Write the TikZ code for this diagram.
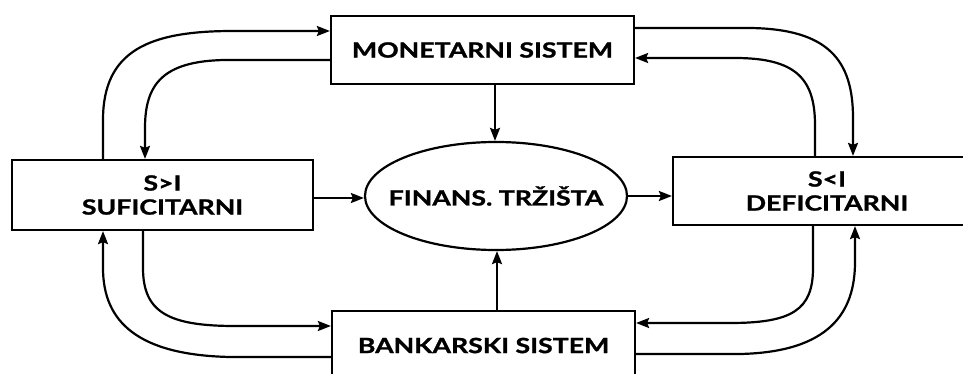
\documentclass[tikz,border=0pt]{standalone}
\usepackage{fontspec}
\newfontfamily\labfont{Lato}[FakeStretch=1.27,BoldFeatures={FakeBold=1.2}]
\usetikzlibrary{arrows.meta,shapes.geometric}
\begin{document}
\begin{tikzpicture}[x=1pt,y=-1pt,
  line width=2.2pt,
  arr/.style={-{Stealth[length=13pt,width=10pt,inset=2pt]}},
  box/.style={draw,rectangle,inner sep=0pt,align=center,
    font=\labfont\bfseries\fontsize{21}{24}\selectfont},
  ell/.style={draw,ellipse,inner xsep=-18pt,inner ysep=0pt,align=center,
    font=\labfont\bfseries\fontsize{21}{24}\selectfont}]
\useasboundingbox (0,0) rectangle (963,374);
\clip (0,0) rectangle (963,374);
\node[box,minimum width=303pt,minimum height=68pt] (mon) at (482.5,50) {MONETARNI SISTEM};
\node[box,minimum width=303pt,minimum height=69pt] (ban) at (483.5,345.5) {BANKARSKI SISTEM};
\node[box,minimum width=301pt,minimum height=70pt] (sup) at (162.5,195) {S>I\\SUFICITARNI};
\node[box,minimum width=308pt,minimum height=68pt] (def) at (827,191) {S<I\\DEFICITARNI};
\node[ell,minimum width=262pt,minimum height=108pt] (fin) at (496,196) {FINANS. TRŽIŠTA};
% straight arrows
\draw[arr] (sup.east |- 0,198) -- (fin.west |- 0,198);
\draw[arr] (fin.east |- 0,196) -- (def.west |- 0,196);
\draw[arr] (mon.south -| 495,0) -- (fin.north -| 495,0);
\draw[arr] (ban.north -| 497,0) -- (fin.south -| 497,0);
% top-left
\draw[arr] (sup.north -| 103,0) -- (103,120) .. controls (103,50) and (150,31) .. (233,31) -- (mon.west |- 0,31);
\draw[arr] (mon.west |- 0,60) -- (225,60) .. controls (162,61) and (145,85) .. (145,128) -- (sup.north -| 145,0);
% top-right
\draw[arr] (mon.east |- 0,28) -- (750,28) .. controls (828,29) and (853,60) .. (853,118) -- (def.north -| 853,0);
\draw[arr] (def.north -| 815,0) -- (815,125) .. controls (815,78) and (795,58) .. (735,58) -- (mon.east |- 0,58);
% bottom-left
\draw[arr] (sup.south -| 143,0) -- (143,268) .. controls (143,312) and (168,326) .. (235,326) -- (ban.west |- 0,326);
\draw[arr] (ban.west |- 0,357) -- (230,357) .. controls (138,355) and (103,322) .. (103,268) -- (sup.south -| 103,0);
% bottom-right
\draw[arr] (def.south -| 813,0) -- (813,268) .. controls (813,310) and (792,323) .. (730,323) -- (ban.east |- 0,323);
\draw[arr] (ban.east |- 0,354) -- (740,354) .. controls (830,352) and (855,312) .. (855,262) -- (def.south -| 855,0);
\end{tikzpicture}
\end{document}
